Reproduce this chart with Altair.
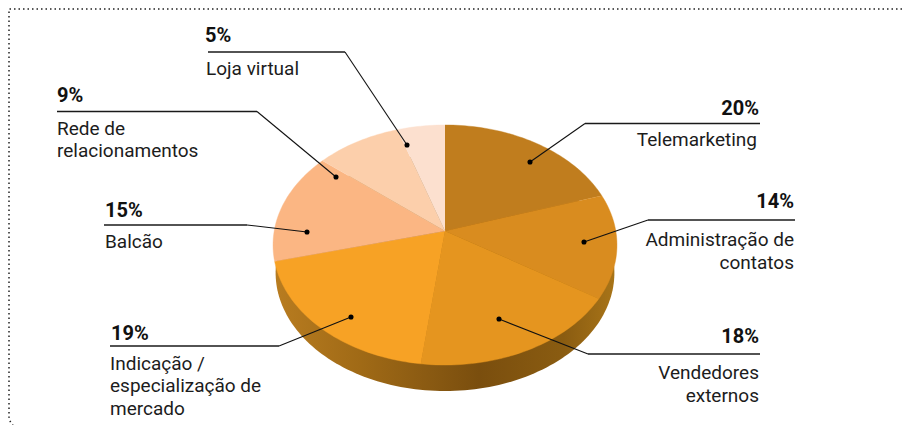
import math
import altair as alt
import pandas as pd

# Chart values
names = ["Telemarketing", "Administração de contatos", "Vendedores externos",
         "Indicação / especialização de mercado", "Balcão", "Rede de relacionamentos", "Loja virtual"]
shares = [20, 14, 18, 19, 15, 9, 5]
slice_colors = ["#C07D1E", "#D98C1F", "#E5951F", "#F7A225", "#FBB683", "#FCCFAB", "#FCE0CF"]

# Label layout (reference pixel coordinates)
pct_x = [759, 794, 759, 111, 105, 57, 205]
pct_y = [115, 208, 343, 340, 217, 102, 42]
pct_align = ["right", "right", "right", "left", "left", "left", "left"]
rule_x0 = [760, 795, 760, 110, 104, 57, 208]
rule_y = [123.5, 220, 354, 346, 225, 111.5, 52]
elbow_x = [585, 648, 588, 279, 247, 257, 345]
dot_x = [530, 584, 499, 351, 307, 336, 407]
dot_y = [162, 242, 319, 317, 232, 177, 145]

text_lines = [
    ("Telemarketing", 757, 146, "right"),
    ("Administração de", 794, 246, "right"),
    ("contatos", 794, 269, "right"),
    ("Vendedores", 759, 379, "right"),
    ("externos", 759, 402, "right"),
    ("Indicação /", 110, 370, "left"),
    ("especialização de", 110, 392, "left"),
    ("mercado", 110, 415, "left"),
    ("Balcão", 105, 248, "left"),
    ("Rede de", 57, 135, "left"),
    ("relacionamentos", 57, 157, "left"),
    ("Loja virtual", 206, 75, "left"),
]

frame_x = [902, 9, 9, 9.5, 11, 13]
frame_y = [9, 9, 417, 420, 423, 425]

# Perspective view of the disc
CX, CY, A, B, K, DEPTH = 445, 231, 118.4, 170.8, 0.1167, 28


def project(deg, scale=1.0, dy=0.0):
    t = math.radians(deg)
    u, v = math.sin(t), math.cos(t)
    d = 1 + K * v
    return CX + scale * B * u / d, CY + dy - scale * A * v / d


rows = []
start = 0.0
for name, share in zip(names, shares):
    end = start + share * 3.6
    rows.append({"name": name, "i": 0, "x": CX, "y": CY})
    n = max(2, int((end - start) / 1.5))
    for j in range(n + 1):
        px, py = project(start + (end - start) * j / n)
        rows.append({"name": name, "i": j + 1, "x": px, "y": py})
    start = end
top = pd.DataFrame(rows)

base_rows = []
for j in range(241):
    px, py = project(j * 1.5, 0.985, DEPTH)
    base_rows.append({"i": j, "x": px, "y": py})
base = pd.DataFrame(base_rows)

X = alt.X("x:Q", scale=alt.Scale(domain=[8, 902]), axis=None)
Y = alt.Y("y:Q", scale=alt.Scale(domain=[425, 8]), axis=None)
color_scale = alt.Scale(domain=names, range=slice_colors)

side = alt.Chart(base).mark_line(
    filled=True,
    fill=alt.Gradient(
        gradient="linear", x1=0, x2=1, y1=0, y2=0,
        stops=[
            alt.GradientStop(color="#B87C20", offset=0),
            alt.GradientStop(color="#A06A16", offset=0.25),
            alt.GradientStop(color="#8A5A12", offset=0.45),
            alt.GradientStop(color="#7A4E0E", offset=0.6),
            alt.GradientStop(color="#8A5C11", offset=0.85),
            alt.GradientStop(color="#A87418", offset=1),
        ],
    ),
).encode(x=X, y=Y, order=alt.Order("i:Q"))

disc = alt.Chart(top).mark_line(filled=True, strokeWidth=0.4).encode(
    x=X, y=Y, order=alt.Order("i:Q"),
    fill=alt.Fill("name:N", scale=color_scale, legend=None),
    stroke=alt.Stroke("name:N", scale=color_scale, legend=None),
    detail="name:N",
)

lead_rows = []
rule_rows = []
for k in range(len(names)):
    lead_rows += [
        {"k": k, "i": 1, "x": elbow_x[k], "y": rule_y[k]},
        {"k": k, "i": 2, "x": dot_x[k], "y": dot_y[k]},
    ]
    rule_rows += [
        {"k": k, "i": 0, "x": rule_x0[k], "y": rule_y[k]},
        {"k": k, "i": 1, "x": elbow_x[k], "y": rule_y[k]},
    ]
leaders = alt.Chart(pd.DataFrame(lead_rows)).mark_line(color="#111111", strokeWidth=1.1).encode(
    x=X, y=Y, order=alt.Order("i:Q"), detail="k:N"
)
rules = alt.Chart(pd.DataFrame(rule_rows)).mark_line(color="#1a1a1a", strokeWidth=1.5).encode(
    x=X, y=Y, order=alt.Order("i:Q"), detail="k:N"
)
dots = alt.Chart(pd.DataFrame({"x": dot_x, "y": dot_y})).mark_circle(
    color="#000000", size=26, opacity=1
).encode(x=X, y=Y)

pct = pd.DataFrame({"t": [f"{s}%" for s in shares], "x": pct_x, "y": pct_y, "a": pct_align})
lines = pd.DataFrame(text_lines, columns=["t", "x", "y", "a"])


def text_layer(df, align, **kw):
    return alt.Chart(df[df["a"] == align]).mark_text(align=align, baseline="alphabetic", **kw).encode(
        x=X, y=Y, text="t:N"
    )


pct_kw = dict(font="Roboto", fontWeight="bold", fontSize=20, color="#111111")
txt_kw = dict(font="Roboto", fontSize=19, color="#1c1c1c")

frame = alt.Chart(pd.DataFrame({"x": frame_x, "y": frame_y, "i": range(len(frame_x))})).mark_line(
    color="#222222", strokeWidth=1.5, strokeDash=[1.5, 3]
).encode(x=X, y=Y, order=alt.Order("i:Q"))

chart = alt.layer(
    frame, side, disc, rules, leaders, dots,
    text_layer(pct, "left", **pct_kw), text_layer(pct, "right", **pct_kw),
    text_layer(lines, "left", **txt_kw), text_layer(lines, "right", **txt_kw),
).properties(
    width=894, height=417, padding=0, autosize=alt.AutoSizeParams(type="none")
).configure_view(stroke=None)

chart.save("out.html", embed_options={"renderer": "svg", "actions": False})
